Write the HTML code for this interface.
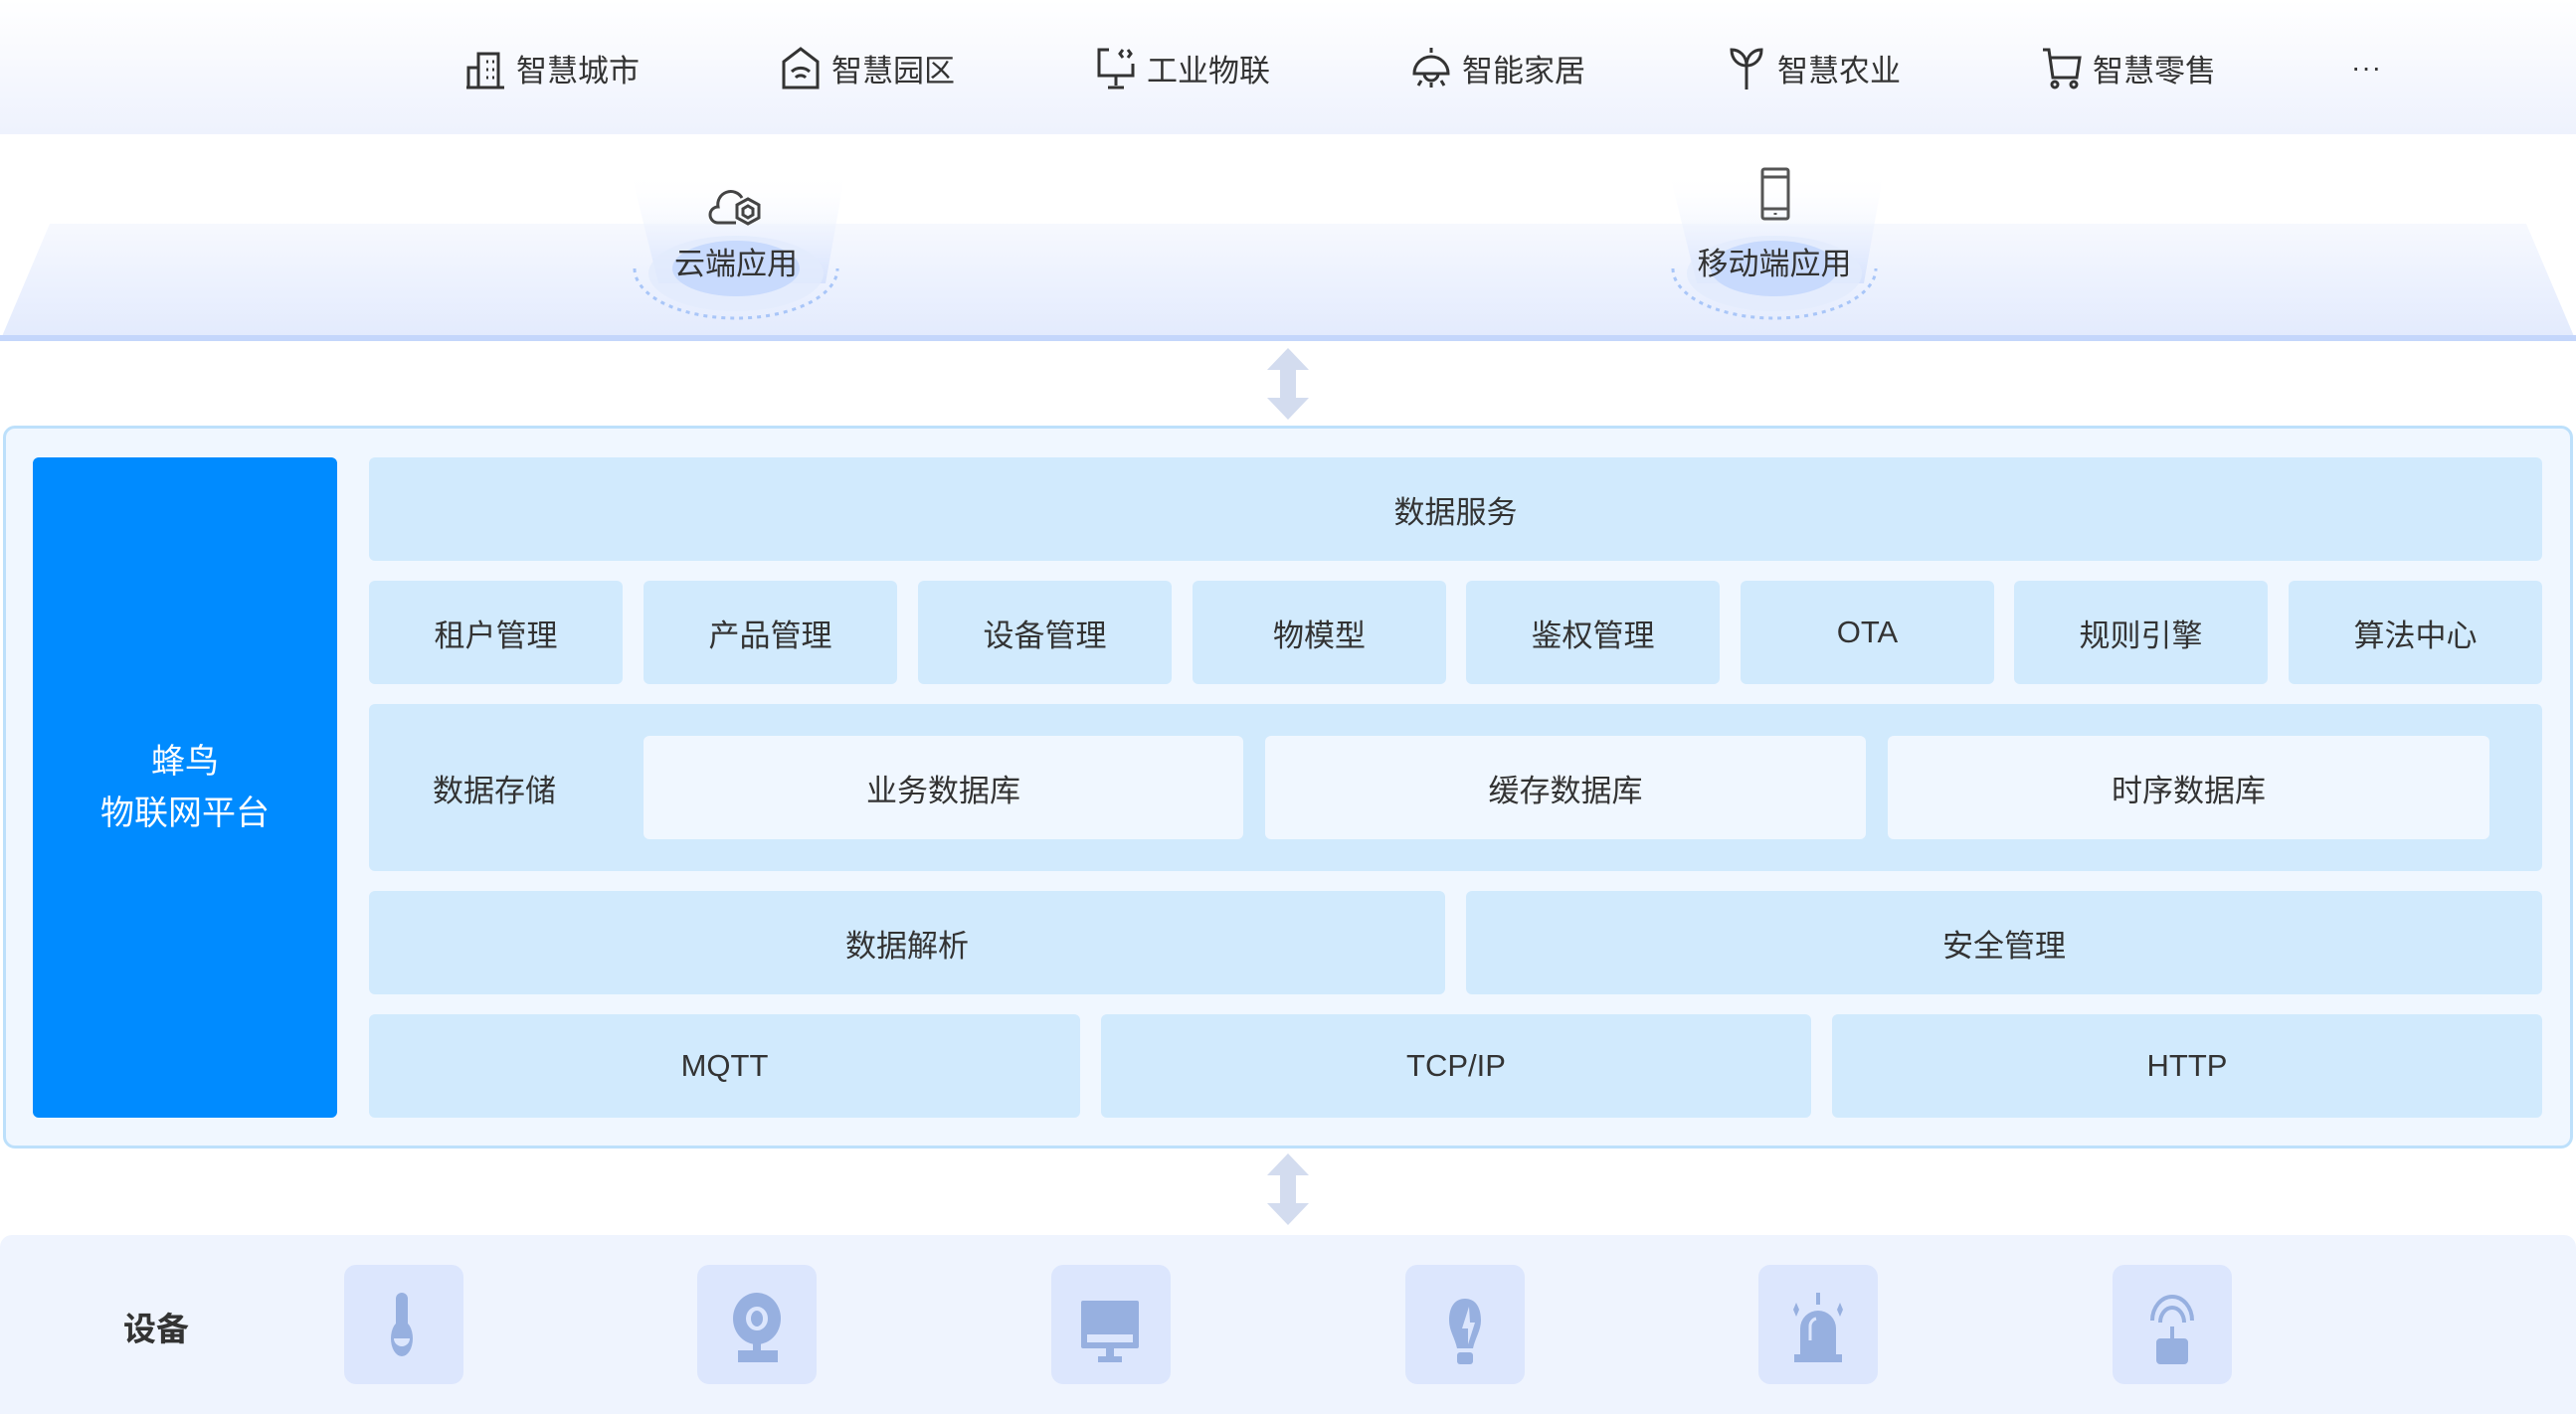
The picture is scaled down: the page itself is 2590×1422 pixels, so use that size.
<!DOCTYPE html>
<html><head><meta charset="utf-8">
<style>
*{margin:0;padding:0;box-sizing:border-box}
body{width:2590px;height:1422px;background:#fff;position:relative;overflow:hidden;font-family:"Liberation Sans","Noto Sans CJK SC",sans-serif;color:#333}
.a{position:absolute}
.top{left:0;top:0;width:2590px;height:135px;background:linear-gradient(#fff,#eef2fd)}
.ti{position:absolute;top:44px;height:48px;display:flex;align-items:center;font-size:31px;color:#333}
.ti svg{margin-right:10px}
.trap{left:0;top:150px;width:2590px;height:193px;background:linear-gradient(rgba(255,255,255,0) 0%,rgba(240,244,254,.6) 40%,#e2eafd 100%);clip-path:polygon(50px 75px,2540px 75px,2590px 193px,0 193px)}
.tline{left:0;top:337px;width:2590px;height:6px;background:#c4d6fb}
.cell{position:absolute;background:#d1eafd;border-radius:6px;display:flex;align-items:center;justify-content:center;font-size:31px;color:#333}
.w{background:#f0f7ff}
.dev{position:absolute;top:1272px;width:120px;height:120px;background:#dce6fd;border-radius:12px}
.lbl{font-size:31px;color:#333;text-align:center;position:absolute;width:240px}
</style></head><body>
<div class="a top"></div>
<div class="ti" style="left:467px"><svg width="42" height="44" viewBox="0 0 42 44" fill="none" stroke="#333" stroke-width="3"><path d="M2 42h38M14 42V8h20v34M14 22H4v20"/><path d="M22 16h2M28 16h2M22 24h2M28 24h2M22 32h2M28 32h2" stroke-width="3"/></svg>智慧城市</div>
<div class="ti" style="left:784px"><svg width="42" height="44" viewBox="0 0 42 44" fill="none" stroke="#333" stroke-width="3"><path d="M4 42V16L21 3l17 13v26z"/><path d="M12 26a13 13 0 0 1 18 0M16 32a7 7 0 0 1 10 0"/></svg>智慧园区</div>
<div class="ti" style="left:1101px"><svg width="42" height="44" viewBox="0 0 42 44" fill="none" stroke="#333" stroke-width="3"><path d="M14 4H4v26h34V18M21 30v10M13 42h16M28 4l-3 4 3 4M33 4l3 4-3 4"/></svg>工业物联</div>
<div class="ti" style="left:1418px"><svg width="42" height="44" viewBox="0 0 42 44" fill="none" stroke="#333" stroke-width="3"><path d="M21 2v5M4 28a17 17 0 0 1 34 0zM14 28a7 7 0 0 0 14 0M8 40l3-5M21 42v-5M34 40l-3-5"/></svg>智能家居</div>
<div class="ti" style="left:1735px"><svg width="42" height="44" viewBox="0 0 42 44" fill="none" stroke="#333" stroke-width="3"><path d="M21 44V20M21 20C21 10 14 4 6 4c0 10 7 16 15 16zM21 20c0-10 7-16 15-16 0 10-7 16-15 16z"/></svg>智慧农业</div>
<div class="ti" style="left:2052px"><svg width="42" height="44" viewBox="0 0 42 44" fill="none" stroke="#333" stroke-width="3"><path d="M2 4h6l4 28h24l3-20H10"/><circle cx="14" cy="39" r="3"/><circle cx="33" cy="39" r="3"/></svg>智慧零售</div>
<div class="ti" style="left:2364px;font-size:28px;letter-spacing:1px">···</div>

<div class="a trap"></div>
<div class="a tline"></div>
<svg class="a" style="left:600px;top:160px" width="280" height="180" viewBox="0 0 280 180">
<defs><linearGradient id="bm" x1="0" y1="0" x2="0" y2="1"><stop offset="0" stop-color="#fff" stop-opacity="0"/><stop offset="1" stop-color="#d6e2fd"/></linearGradient></defs>
<path d="M34 12H250L230 125H62Z" fill="url(#bm)"/>
<path d="M38 110A102 50 0 0 0 242 110" fill="none" stroke="#a9c6f8" stroke-width="3" stroke-dasharray="4 5"/>
<ellipse cx="140" cy="115" rx="88" ry="38" fill="#e2ebfd" opacity=".8"/>
<ellipse cx="140" cy="110" rx="64" ry="28" fill="#c8dafd"/>
</svg>
<svg class="a" style="left:1644px;top:160px" width="280" height="180" viewBox="0 0 280 180">
<path d="M34 12H250L230 125H62Z" fill="url(#bm)"/>
<path d="M38 110A102 50 0 0 0 242 110" fill="none" stroke="#a9c6f8" stroke-width="3" stroke-dasharray="4 5"/>
<ellipse cx="140" cy="115" rx="88" ry="38" fill="#e2ebfd" opacity=".8"/>
<ellipse cx="140" cy="110" rx="64" ry="28" fill="#c8dafd"/>
</svg>
<svg class="a" style="left:712px;top:184px" width="60" height="44" viewBox="0 0 60 44" fill="none" stroke="#444" stroke-width="3"><path d="M28 40H10a8 8 0 0 1 0-16 13 13 0 0 1 24-9"/><path d="M40 16l11 6v13l-11 6-11-6V22z"/><path d="M40 23l5 3v6l-5 3-5-3v-6z"/></svg>
<div class="lbl" style="left:620px;top:240px">云端应用</div>
<svg class="a" style="left:1770px;top:168px" width="30" height="54" viewBox="0 0 30 54" fill="none" stroke="#555" stroke-width="3"><rect x="2" y="2" width="26" height="50" rx="2"/><path d="M2 10h26M2 42h26M15 46v2"/></svg>
<div class="lbl" style="left:1664px;top:240px">移动端应用</div>

<svg class="a" style="left:1272px;top:350px" width="46" height="72" viewBox="0 0 46 72"><path d="M23 0L44 22H31V50H44L23 72L2 50H15V22H2Z" fill="#d3dcef"/></svg>
<svg class="a" style="left:1272px;top:1160px" width="46" height="72" viewBox="0 0 46 72"><path d="M23 0L44 22H31V50H44L23 72L2 50H15V22H2Z" fill="#d3dcef"/></svg>

<div class="a" style="left:3px;top:428px;width:2584px;height:727px;background:#f0f7ff;border:3px solid #bde0fb;border-radius:12px"></div>
<div class="a" style="left:33px;top:460px;width:306px;height:664px;background:#008bff;border-radius:6px;color:#fff;font-size:34px;display:flex;align-items:center;justify-content:center;text-align:center;line-height:52px">蜂鸟<br>物联网平台</div>
<div class="cell" style="left:371px;top:460px;width:2185px;height:104px">数据服务</div>

<div class="cell" style="left:371px;top:584px;width:255px;height:104px">租户管理</div>
<div class="cell" style="left:647px;top:584px;width:255px;height:104px">产品管理</div>
<div class="cell" style="left:923px;top:584px;width:255px;height:104px">设备管理</div>
<div class="cell" style="left:1199px;top:584px;width:255px;height:104px">物模型</div>
<div class="cell" style="left:1474px;top:584px;width:255px;height:104px">鉴权管理</div>
<div class="cell" style="left:1750px;top:584px;width:255px;height:104px">OTA</div>
<div class="cell" style="left:2025px;top:584px;width:255px;height:104px">规则引擎</div>
<div class="cell" style="left:2301px;top:584px;width:255px;height:104px">算法中心</div>

<div class="cell" style="left:371px;top:708px;width:2185px;height:168px;justify-content:flex-start;padding-left:64px">数据存储</div>
<div class="cell w" style="left:647px;top:740px;width:603px;height:104px">业务数据库</div>
<div class="cell w" style="left:1272px;top:740px;width:604px;height:104px">缓存数据库</div>
<div class="cell w" style="left:1898px;top:740px;width:605px;height:104px">时序数据库</div>

<div class="cell" style="left:371px;top:896px;width:1082px;height:104px">数据解析</div>
<div class="cell" style="left:1474px;top:896px;width:1082px;height:104px">安全管理</div>

<div class="cell" style="left:371px;top:1020px;width:715px;height:104px">MQTT</div>
<div class="cell" style="left:1107px;top:1020px;width:714px;height:104px">TCP/IP</div>
<div class="cell" style="left:1842px;top:1020px;width:714px;height:104px">HTTP</div>

<div class="a" style="left:0;top:1242px;width:2590px;height:180px;background:#eff4fe;border-radius:12px 12px 0 0"></div>
<div class="a" style="left:124px;top:1310px;font-size:33px;font-weight:bold;color:#333">设备</div>
<div class="dev" style="left:346px"><svg width="120" height="120" viewBox="0 0 120 120"><rect x="52" y="28" width="12" height="40" rx="6" fill="#97b0e0"/><ellipse cx="58" cy="74" rx="11" ry="18" fill="#97b0e0"/><path d="M50 74h16a8 8 0 0 1-16 0z" fill="#dce6fd"/></svg></div>
<div class="dev" style="left:701px"><svg width="120" height="120" viewBox="0 0 120 120"><ellipse cx="60" cy="54" rx="24" ry="26" fill="#97b0e0"/><ellipse cx="60" cy="54" rx="11" ry="12" fill="#dce6fd"/><ellipse cx="60" cy="54" rx="6" ry="8" fill="#97b0e0"/><rect x="56" y="76" width="8" height="10" fill="#97b0e0"/><rect x="41" y="86" width="40" height="12" fill="#97b0e0"/></svg></div>
<div class="dev" style="left:1057px"><svg width="120" height="120" viewBox="0 0 120 120"><rect x="30" y="36" width="58" height="48" rx="2" fill="#97b0e0"/><rect x="36" y="70" width="46" height="8" fill="#dce6fd"/><rect x="55" y="84" width="8" height="10" fill="#97b0e0"/><rect x="47" y="92" width="24" height="6" fill="#97b0e0"/></svg></div>
<div class="dev" style="left:1413px"><svg width="120" height="120" viewBox="0 0 120 120"><path d="M60 34c10 0 16 8 16 22 0 10-6 18-8 28H52c-2-10-8-18-8-28 0-14 6-22 16-22z" fill="#97b0e0"/><path d="M64 42l-7 22h6v16l7-22h-5z" fill="#dce6fd"/><rect x="52" y="88" width="16" height="12" rx="3" fill="#97b0e0"/></svg></div>
<div class="dev" style="left:1768px"><svg width="120" height="120" viewBox="0 0 120 120"><rect x="58" y="28" width="4" height="12" fill="#97b0e0"/><path d="M42 92V64a18 18 0 0 1 36 0v28z" fill="#97b0e0"/><rect x="36" y="90" width="48" height="8" fill="#97b0e0"/><path d="M38 38l3 7-3 7-3-7zM82 38l3 7-3 7-3-7z" fill="#97b0e0"/><path d="M52 76V62a8 8 0 0 1 6-8" stroke="#dce6fd" stroke-width="3" fill="none"/></svg></div>
<div class="dev" style="left:2124px"><svg width="120" height="120" viewBox="0 0 120 120" fill="none" stroke="#97b0e0" stroke-width="4"><path d="M40 56a20 24 0 0 1 40 0M48 58a12 15 0 0 1 24 0"/><path d="M60 62v14"/><rect x="46" y="76" width="28" height="22" rx="2" fill="#97b0e0"/></svg></div>
</body></html>
